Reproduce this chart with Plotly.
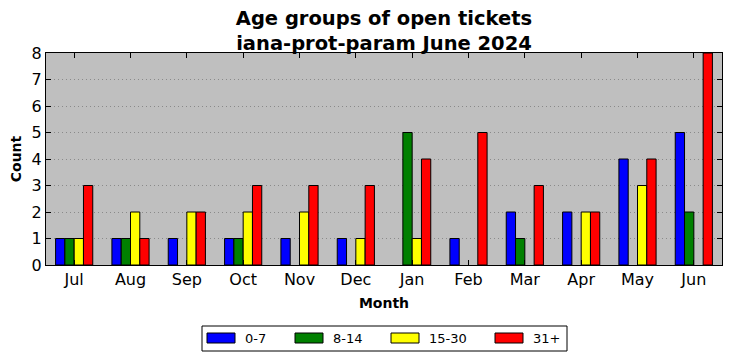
import plotly.graph_objects as go

months = ["Jul", "Aug", "Sep", "Oct", "Nov", "Dec", "Jan", "Feb", "Mar", "Apr", "May", "Jun"]
series_names = ["0-7", "8-14", "15-30", "31+"]
v_0_7 = [1, 1, 1, 1, 1, 1, 0, 1, 2, 2, 4, 5]
v_8_14 = [1, 1, 0, 1, 0, 0, 5, 0, 1, 0, 0, 2]
v_15_30 = [1, 2, 2, 2, 2, 1, 1, 0, 0, 2, 3, 0]
v_31p = [3, 1, 2, 3, 3, 3, 4, 5, 3, 2, 4, 8]
colors = ["#0000ff", "#008000", "#ffff00", "#ff0000"]

W = 0.165
xs = list(range(len(months)))
fig = go.Figure()
for k, (name, vals, col) in enumerate(zip(series_names, [v_0_7, v_8_14, v_15_30, v_31p], colors)):
    fig.add_trace(go.Bar(
        x=xs, y=[v if v else None for v in vals], name=name, width=W, offset=(k - 2) * W,
        marker=dict(color=col, line=dict(color="black", width=1)),
        showlegend=False,
    ))

OFF = 8  # page body margin offset
L, T, R, B = 46 - OFF, 53 - OFF, 732 - (722 - OFF), 361 - (265 - OFF)

font = "DejaVu Sans, sans-serif"
fig.update_layout(
    width=732, height=361,
    margin=dict(l=L, r=R, t=T, b=B, autoexpand=False),
    paper_bgcolor="white", plot_bgcolor="#bfbfbf",
    barmode="overlay",
    font=dict(family=font, color="black"),
    title=dict(text="<b>Age groups of open tickets<br>iana-prot-param June 2024</b>",
               x=(384 - OFF) / 732, xanchor="center", xref="container",
               yref="container", y=1 - 17 / 361, yanchor="top",
               font=dict(size=19.5, family=font), automargin=False),
    xaxis=dict(range=[-0.5, 11.5], tickmode="array", tickvals=xs, ticktext=months,
               ticks="inside", ticklen=5, tickcolor="black", mirror="allticks",
               showline=True, linecolor="black", linewidth=1, showgrid=False,
               automargin=False,
               tickfont=dict(size=16), title=dict(text="<b>Month</b>", font=dict(size=14), standoff=9)),
    yaxis=dict(range=[0, 8], tickmode="array", tickvals=list(range(9)),
               ticks="inside", ticklen=5, tickcolor="black", mirror="allticks",
               showline=True, linecolor="black", linewidth=1,
               showgrid=True, gridcolor="#8a8a8a", griddash="1px,3px", gridwidth=1,
               zeroline=False, automargin=False,
               tickfont=dict(size=16), title=dict(text="<b>Count</b>", font=dict(size=14), standoff=6)),
)

pw, ph = 732 - L - R, 361 - T - B
def px(x):
    return (x - OFF - L) / pw
def py(y):
    return (361 - B - (y - OFF)) / ph

fig.add_shape(type="rect", xref="paper", yref="paper",
              x0=px(202), x1=px(567), y0=py(351), y1=py(326),
              line=dict(color="black", width=1), fillcolor="white")
sw_x = [207, 295, 391, 495]
for k, (name, col) in enumerate(zip(series_names, colors)):
    fig.add_shape(type="rect", xref="paper", yref="paper",
                  x0=px(sw_x[k]), x1=px(sw_x[k] + 28), y0=py(343), y1=py(333),
                  line=dict(color="black", width=1), fillcolor=col)
    fig.add_annotation(xref="paper", yref="paper", x=px(sw_x[k] + 36), y=py(338.5),
                       text=name, showarrow=False, xanchor="left", yanchor="middle",
                       font=dict(size=13, family=font))

fig.write_html("out.html")
